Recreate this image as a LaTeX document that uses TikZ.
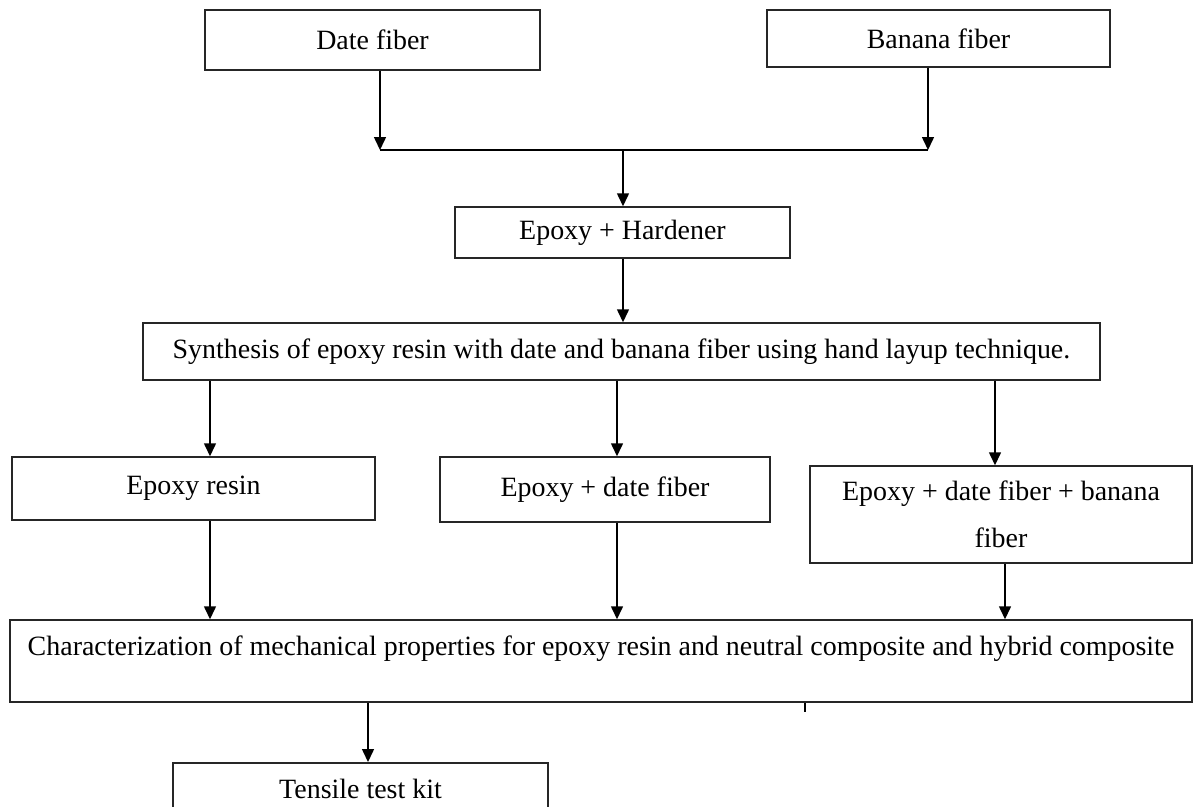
\documentclass[tikz,border=0pt]{standalone}
\usepackage{fontspec}
\setmainfont{Liberation Serif}
\usetikzlibrary{arrows.meta}
\begin{document}
\begin{tikzpicture}[x=0.02cm,y=-0.02cm,
  box/.style={draw=black!85, line width=0.85pt, inner sep=2pt, font=\fontsize{15.9}{27}\selectfont},
  arr/.style={line width=0.85pt, -{Triangle[length=0.26cm,width=0.24cm]}}]
\clip (0,0) rectangle (1194,806);
\node[box, minimum width=6.7cm, minimum height=1.2cm] (date) at (372.5,40) {Date fiber};
\node[box, minimum width=6.86cm, minimum height=1.14cm] (banana) at (938.5,38.5) {Banana fiber};
\node[box, minimum width=6.7cm, minimum height=1.02cm] (hard) at (622.5,232.5) {Epoxy + Hardener};
\node[box, minimum width=19.14cm, minimum height=1.14cm] (synth) at (621.5,351.5) {Synthesis of epoxy resin with date and banana fiber using hand layup technique.};
\node[box, minimum width=7.26cm, minimum height=1.26cm] (resin) at (193.5,488.5) {Epoxy resin};
\node[box, minimum width=6.6cm, minimum height=1.3cm] (datec) at (605,489.5) {Epoxy + date fiber};
\node[box, minimum width=7.64cm, minimum height=1.94cm, align=center] (hybrid) at (1001,514.5) {Epoxy + date fiber + banana\\fiber};
\node[box, minimum width=23.64cm, minimum height=1.64cm, text height=0.4cm, text depth=0.64cm] (charac) at (601,661) {Characterization of mechanical properties for epoxy resin and neutral composite and hybrid composite};
\node[box, minimum width=7.5cm, minimum height=1.04cm, anchor=north] (tensile) at (360.5,762) {Tensile test kit};
% joints and columns
\coordinate (jl) at (380,150);
\coordinate (jr) at (928,150);
\coordinate (jm) at (623,150);
\coordinate (c1) at (210,0);
\coordinate (c2) at (617,0);
\coordinate (c3) at (995,0);
\coordinate (c4) at (1005,0);
\coordinate (c0) at (368,0);
\draw[arr] (date.south -| jl) -- (jl);
\draw[arr] (banana.south -| jr) -- (jr);
\draw[line width=0.85pt] (jl) -- (jr);
\draw[arr] (jm) -- (hard.north -| jm);
\draw[arr] (hard.south -| jm) -- (synth.north -| jm);
\draw[arr] (synth.south -| c1) -- (resin.north -| c1);
\draw[arr] (synth.south -| c2) -- (datec.north -| c2);
\draw[arr] (synth.south -| c3) -- (hybrid.north -| c3);
\draw[arr] (resin.south -| c1) -- (charac.north -| c1);
\draw[arr] (datec.south -| c2) -- (charac.north -| c2);
\draw[arr] (hybrid.south -| c4) -- (charac.north -| c4);
\draw[arr] (charac.south -| c0) -- (tensile.north -| c0);
\draw[line width=0.6pt] (charac.south -| 805,0) -- +(0,9);
\end{tikzpicture}
\end{document}
